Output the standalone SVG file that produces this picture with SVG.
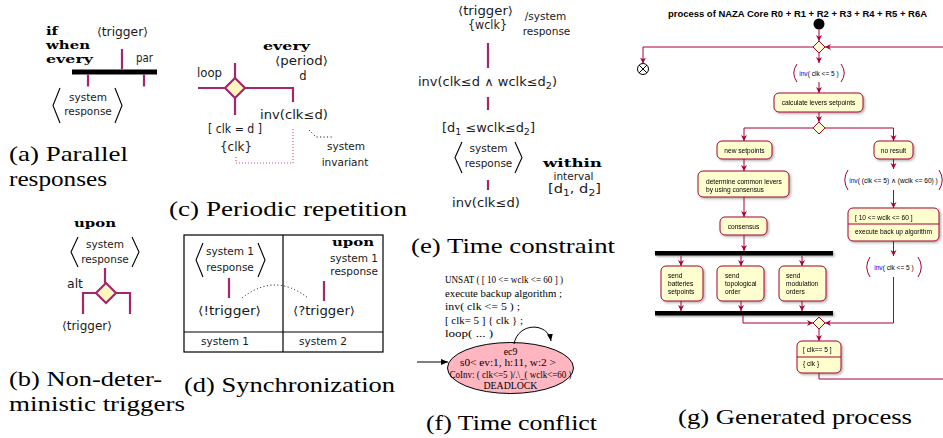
<svg xmlns="http://www.w3.org/2000/svg" width="943" height="438" viewBox="0 0 943 438">
<defs>
<style>
.cap{font-family:"Liberation Serif",serif;font-size:22px;fill:#000}
.sf{font-family:"DejaVu Sans",sans-serif;font-size:11.5px;fill:#1a1a1a}
.st{font-family:"DejaVu Sans",sans-serif;font-size:10.5px;fill:#1a1a1a;text-anchor:middle}
.kw{font-family:"DejaVu Serif",serif;font-weight:bold;font-size:11.5px;fill:#000}
.mg{stroke:#A3266E;stroke-width:2.2;fill:none}
.dia{fill:#FFF6C0;stroke:#A3266E;stroke-width:2.2}
.br{stroke:#000;stroke-width:1.1;fill:none}
.dot{stroke:#000;stroke-width:1;fill:none;stroke-dasharray:1 2.5}
.pdot{stroke:#D6489A;stroke-width:1.2;fill:none;stroke-dasharray:1 2}
.tm{font-family:"Liberation Serif",serif;font-size:10.5px;fill:#000}
.te{font-family:"Liberation Serif",serif;font-size:9.8px;fill:#000;text-anchor:middle}
.pu{font-family:"Liberation Sans",Arial,sans-serif;font-size:6.6px;fill:#000}
.pb{fill:#FEFECE;stroke:#A80036;stroke-width:1}
.pl{stroke:#A80036;stroke-width:1;fill:none}
.pa{marker-end:url(#pa)}
.m{text-anchor:middle}
.blue{fill:#0000FF}
</style>
<marker id="pa" markerUnits="userSpaceOnUse" markerWidth="7" markerHeight="7" refX="6" refY="3" orient="auto"><path d="M0,0 L6,3 L0,6 L1.8,3 z" fill="#A80036"/></marker>
<marker id="ba" markerUnits="userSpaceOnUse" markerWidth="8" markerHeight="8" refX="7" refY="3" orient="auto"><path d="M0,0 L7,3 L0,6 z" fill="#000"/></marker>
<filter id="sh" x="-20%" y="-20%" width="150%" height="170%"><feDropShadow dx="1.5" dy="1.5" stdDeviation="1" flood-color="#000" flood-opacity="0.3"/></filter>
</defs>
<rect width="943" height="438" fill="#fff"/>

<!-- (a) Parallel responses -->
<g id="panel-a">
  <g id="a-keywords">
    <text class="kw" x="46" y="34.5" textLength="12" lengthAdjust="spacingAndGlyphs">if</text>
    <text class="kw" x="46" y="48.5" textLength="44" lengthAdjust="spacingAndGlyphs">when</text>
    <text class="kw" x="46" y="62.5" textLength="47" lengthAdjust="spacingAndGlyphs">every</text>
  </g>
  <g id="a-trigger"><text class="sf m" x="122.5" y="36" textLength="51" lengthAdjust="spacingAndGlyphs">⟨trigger⟩</text></g>
  <g id="a-par"><text class="sf" x="136" y="62" textLength="17" lengthAdjust="spacingAndGlyphs">par</text></g>
  <g id="a-bar"><rect x="72" y="69.5" width="85" height="5" fill="#000"/></g>
  <g id="a-response">
    <path class="br" d="M60 88 L53 105.5 L60 123 M115 88 L122 105.5 L115 123"/>
    <text class="st" x="88" y="101">system</text>
    <text class="st" x="88" y="115">response</text>
  </g>
  <g id="a-connectors">
    <path class="mg" d="M122 49 V69.5 M88 74.5 V86.5 M144 74.5 V86.5"/>
  </g>
  <text class="cap" x="9" y="161" textLength="119" lengthAdjust="spacingAndGlyphs">(a) Parallel</text>
  <text class="cap" x="9" y="186" textLength="98" lengthAdjust="spacingAndGlyphs">responses</text>
</g>

<!-- (b) Non-deterministic triggers -->
<g id="panel-b">
  <g id="b-upon"><text class="kw" x="74" y="227" textLength="42" lengthAdjust="spacingAndGlyphs">upon</text></g>
  <g id="b-response">
    <path class="br" d="M78 237 L71 252 L78 267 M132 237 L139 252 L132 267"/>
    <text class="st" x="105" y="248">system</text>
    <text class="st" x="105" y="263">response</text>
  </g>
  <g id="b-alt">
    <polygon class="dia" points="106,283 116,293 106,303 96,293"/>
    <text class="sf" x="67" y="288" textLength="16" lengthAdjust="spacingAndGlyphs">alt</text>
  </g>
  <g id="b-trigger"><text class="sf m" x="87" y="330" textLength="50" lengthAdjust="spacingAndGlyphs">⟨trigger⟩</text></g>
  <g id="b-connectors">
    <path class="mg" d="M105 268 V283 M83 314 V293 H96 M116 293 H130 V314"/>
  </g>
  <text class="cap" x="9" y="386" textLength="153" lengthAdjust="spacingAndGlyphs">(b) Non-deter-</text>
  <text class="cap" x="9" y="410.5" textLength="176" lengthAdjust="spacingAndGlyphs">ministic triggers</text>
</g>

<!-- (c) Periodic repetition -->
<g id="panel-c">
  <g id="c-every">
    <text class="kw" x="263" y="50" textLength="47" lengthAdjust="spacingAndGlyphs">every</text>
    <text class="sf m" x="301.5" y="65" textLength="53" lengthAdjust="spacingAndGlyphs">⟨period⟩</text>
    <text class="sf m" x="303" y="80">d</text>
  </g>
  <g id="c-loop">
    <polygon class="dia" points="235,78 245,88 235,98 225,88"/>
    <text class="sf" x="197" y="77" textLength="25" lengthAdjust="spacingAndGlyphs">loop</text>
  </g>
  <g id="c-inv"><text class="sf m" x="294" y="119" textLength="68" lengthAdjust="spacingAndGlyphs">inv(clk≤d)</text></g>
  <g id="c-guard">
    <text class="sf m" x="235" y="133" textLength="54" lengthAdjust="spacingAndGlyphs">[ clk = d ]</text>
    <text class="sf m" x="236" y="151" textLength="32" lengthAdjust="spacingAndGlyphs">{clk}</text>
  </g>
  <g id="c-note">
    <text class="st" x="346" y="150">system</text>
    <text class="st" x="345" y="166">invariant</text>
  </g>
  <g id="c-connectors">
    <path class="mg" d="M198 88 H225 M245 88 H293 V102 M235 63 V78 M235 98 V115"/>
    <path class="pdot" d="M236 157 V163 H293 V128"/>
    <path class="dot" d="M309 130 L316 137 H332"/>
  </g>
  <text class="cap" x="169" y="216" textLength="238" lengthAdjust="spacingAndGlyphs">(c) Periodic repetition</text>
</g>

<!-- (d) Synchronization -->
<g id="panel-d">
  <g id="d-table" fill="none" stroke="#000" stroke-width="1.2">
    <rect x="184" y="235" width="199" height="117"/>
    <path d="M283 235 V352 M184 332 H383"/>
  </g>
  <g id="d-sys1">
    <path class="br" d="M203 243 L196 260 L203 277 M258 243 L265 260 L258 277"/>
    <text class="st" x="230" y="255">system 1</text>
    <text class="st" x="230" y="271">response</text>
    <text class="sf m" x="229.5" y="315" textLength="63" lengthAdjust="spacingAndGlyphs">⟨!trigger⟩</text>
  </g>
  <g id="d-sys2">
    <text class="kw" x="332" y="246" textLength="42" lengthAdjust="spacingAndGlyphs">upon</text>
    <text class="st" x="378" y="262" style="text-anchor:end">system 1</text>
    <text class="st" x="378" y="275" style="text-anchor:end">response</text>
    <text class="sf m" x="324" y="315" textLength="62" lengthAdjust="spacingAndGlyphs">⟨?trigger⟩</text>
  </g>
  <g id="d-labels">
    <text class="st" x="225" y="345" font-size="11">system 1</text>
    <text class="st" x="323" y="345" font-size="11">system 2</text>
  </g>
  <g id="d-connectors">
    <path class="mg" d="M229 278 V298 M324 281 V301"/>
    <path class="dot" d="M242 298 Q275 272 308 298"/>
  </g>
  <text class="cap" x="184" y="392" textLength="211" lengthAdjust="spacingAndGlyphs">(d) Synchronization</text>
</g>

<!-- (e) Time constraint -->
<g id="panel-e">
  <g id="e-trigger">
    <text class="sf m" x="485.5" y="15" textLength="55" lengthAdjust="spacingAndGlyphs">⟨trigger⟩</text>
    <text class="sf m" x="487.5" y="29" textLength="39" lengthAdjust="spacingAndGlyphs">{wclk}</text>
    <text class="st" x="545.5" y="20">/system</text>
    <text class="st" x="546.5" y="35">response</text>
  </g>
  <g id="e-inv1"><text class="sf m" x="487.5" y="86" textLength="139" lengthAdjust="spacingAndGlyphs">inv(clk≤d ∧ wclk≤d<tspan font-size="8.5" dy="3">2</tspan><tspan dy="-3">)</tspan></text></g>
  <g id="e-guard"><text class="sf m" x="488.5" y="132" textLength="93" lengthAdjust="spacingAndGlyphs">[d<tspan font-size="8.5" dy="3">1</tspan><tspan dy="-3"> ≤wclk≤d</tspan><tspan font-size="8.5" dy="3">2</tspan><tspan dy="-3">]</tspan></text></g>
  <g id="e-response">
    <path class="br" d="M462 142 L455 157.5 L462 173 M515 142 L522 157.5 L515 173"/>
    <text class="st" x="488.5" y="152">system</text>
    <text class="st" x="488.5" y="167">response</text>
  </g>
  <g id="e-within">
    <text class="kw" x="543" y="167" textLength="59" lengthAdjust="spacingAndGlyphs">within</text>
    <text class="st" x="573.5" y="180">interval</text>
    <text class="sf m" x="574.5" y="193" textLength="53" lengthAdjust="spacingAndGlyphs">[d<tspan font-size="8.5" dy="3">1</tspan><tspan dy="-3">, d</tspan><tspan font-size="8.5" dy="3">2</tspan><tspan dy="-3">]</tspan></text>
  </g>
  <g id="e-inv2"><text class="sf m" x="486" y="207" textLength="68" lengthAdjust="spacingAndGlyphs">inv(clk≤d)</text></g>
  <g id="e-connectors">
    <path class="mg" d="M488 43 V68 M488 97 V110 M488 180 V190"/>
  </g>
  <text class="cap" x="411" y="253" textLength="204" lengthAdjust="spacingAndGlyphs">(e) Time constraint</text>
</g>

<!-- (f) Time conflict -->
<g id="panel-f">
  <g id="f-label">
    <text class="tm" x="445" y="283" textLength="118" lengthAdjust="spacingAndGlyphs">UNSAT ( [ 10 &lt;= wclk &lt;= 60 ] )</text>
    <text class="tm" x="445" y="296.5" textLength="117" lengthAdjust="spacingAndGlyphs">execute backup algorithm ;</text>
    <text class="tm" x="445" y="310" textLength="75" lengthAdjust="spacingAndGlyphs">inv( clk &lt;= 5 ) ;</text>
    <text class="tm" x="445" y="323.5" textLength="78" lengthAdjust="spacingAndGlyphs">[ clk= 5 ] { clk } ;</text>
    <text class="tm" x="445" y="337" textLength="48" lengthAdjust="spacingAndGlyphs">loop( ... )</text>
  </g>
  <g id="f-state">
    <ellipse cx="510.5" cy="368" rx="63" ry="25.5" fill="#FFB6C1" stroke="#000" stroke-width="1"/>
    <text class="te" x="510.5" y="354.5">ec9</text>
    <text class="te" x="508" y="366" textLength="96" lengthAdjust="spacingAndGlyphs">s0&lt; ev:1, h:11, w:2 &gt;</text>
    <text class="te" x="510.5" y="377.5" textLength="122" lengthAdjust="spacingAndGlyphs">CoInv: ( clk&lt;=5 )/.\_( wclk&lt;=60 )</text>
    <text class="te" x="510.5" y="389">DEADLOCK</text>
  </g>
  <g id="f-connectors" stroke="#000" stroke-width="1" fill="none">
    <path d="M514 344 C518 322, 548 322, 551 341" marker-end="url(#ba)"/>
    <path d="M417 362 H448" marker-end="url(#ba)"/>
  </g>
  <text class="cap" x="426" y="430" textLength="171" lengthAdjust="spacingAndGlyphs">(f) Time conflict</text>
</g>

<!-- (g) Generated process -->
<g id="panel-g">
  <text id="g-title" x="797.5" y="16.5" text-anchor="middle" font-family="Liberation Sans, Arial, sans-serif" font-weight="bold" font-size="8.6" textLength="259" lengthAdjust="spacingAndGlyphs">process of NAZA Core R0 + R1 + R2 + R3 + R4 + R5 + R6A</text>
  <g id="g-start"><circle cx="819" cy="24" r="5.5" fill="#000"/></g>
  <g id="g-end"><circle cx="643" cy="69" r="5.5" fill="#fff" stroke="#000" stroke-width="1"/><path d="M639.1 65.1 L646.9 72.9 M646.9 65.1 L639.1 72.9" stroke="#000" stroke-width="1"/></g>
  <g id="g-merge1"><polygon class="pb" points="819,41 825,47 819,53 813,47"/></g>
  <g id="g-inv1">
    <path class="pl" d="M797 64 Q790.5 73 797 82 M841 64 Q847.5 73 841 82"/>
    <text class="pu m" x="819" y="75.5"><tspan class="blue">inv</tspan>( clk &lt;= 5 )</text>
  </g>
  <g id="g-calc" filter="url(#sh)">
    <rect class="pb" x="774" y="93" width="89" height="19" rx="5"/>
    <text class="pu m" x="818.5" y="104.5">calculate levers setpoints</text>
  </g>
  <g id="g-branch"><polygon class="pb" points="819,122 825,128 819,134 813,128"/></g>
  <g id="g-new" filter="url(#sh)">
    <rect class="pb" x="717" y="141" width="55" height="18" rx="5"/>
    <text class="pu m" x="744.5" y="152.5">new setpoints</text>
  </g>
  <g id="g-determine" filter="url(#sh)">
    <rect class="pb" x="698" y="171" width="91" height="26" rx="5"/>
    <text class="pu" x="706" y="184">determine common levers</text>
    <text class="pu" x="706" y="192">by using consensus</text>
  </g>
  <g id="g-consensus" filter="url(#sh)">
    <rect class="pb" x="720" y="217" width="47" height="18" rx="5"/>
    <text class="pu m" x="743.5" y="228.5">consensus</text>
  </g>
  <g id="g-fork" filter="url(#sh)"><rect x="655" y="251" width="178" height="4.5" fill="#000"/></g>
  <g id="g-send1" filter="url(#sh)">
    <rect class="pb" x="661" y="266" width="42" height="35" rx="5"/>
    <text class="pu" x="668" y="278">send</text>
    <text class="pu" x="668" y="286">batteries</text>
    <text class="pu" x="668" y="294">setpoints</text>
  </g>
  <g id="g-send2" filter="url(#sh)">
    <rect class="pb" x="717" y="266" width="47" height="35" rx="5"/>
    <text class="pu" x="725" y="278">send</text>
    <text class="pu" x="725" y="286">topological</text>
    <text class="pu" x="725" y="294">order</text>
  </g>
  <g id="g-send3" filter="url(#sh)">
    <rect class="pb" x="779" y="266" width="47" height="35" rx="5"/>
    <text class="pu" x="786" y="278">send</text>
    <text class="pu" x="786" y="286">modulation</text>
    <text class="pu" x="786" y="294">orders</text>
  </g>
  <g id="g-join" filter="url(#sh)"><rect x="655" y="311" width="178" height="4.5" fill="#000"/></g>
  <g id="g-noresult" filter="url(#sh)">
    <rect class="pb" x="874" y="141" width="39" height="18" rx="5"/>
    <text class="pu m" x="893.5" y="152.5">no result</text>
  </g>
  <g id="g-inv2">
    <path class="pl" d="M848 170 Q841.5 180 848 190 M939 170 Q945.5 180 939 190"/>
    <text class="pu m" x="893.5" y="182.5"><tspan class="blue">inv</tspan>( (clk &lt;= 5) ∧ (wclk &lt;= 60) )</text>
  </g>
  <g id="g-backup" filter="url(#sh)">
    <rect class="pb" x="848" y="208" width="91" height="33" rx="5"/>
    <path class="pl" d="M848 224 H939"/>
    <text class="pu" x="855" y="219.5">[ 10 &lt;= wclk &lt;= 60 ]</text>
    <text class="pu" x="855" y="233.5">execute back up algorithm</text>
  </g>
  <g id="g-inv3">
    <path class="pl" d="M870 257 Q863.5 267 870 277 M918 257 Q924.5 267 918 277"/>
    <text class="pu m" x="894" y="269.5"><tspan class="blue">inv</tspan>( clk &lt;= 5 )</text>
  </g>
  <g id="g-merge2"><polygon class="pb" points="819,317 825,323 819,329 813,323"/></g>
  <g id="g-clk" filter="url(#sh)">
    <rect class="pb" x="797" y="341" width="44" height="32" rx="5"/>
    <path class="pl" d="M797 357 H841"/>
    <text class="pu" x="803" y="352">[ clk== 5 ]</text>
    <text class="pu" x="803" y="366">{ clk }</text>
  </g>
  <g id="g-connectors" class="pl">
    <path class="pa" d="M819 29.5 V41"/>
    <path class="pa" d="M813 47 H643 V63.5"/>
    <path class="pa" d="M943 47 H825"/>
    <path class="pa" d="M819 53 V63"/>
    <path class="pa" d="M819 82 V93"/>
    <path class="pa" d="M819 112 V122"/>
    <path class="pa" d="M813 128 H744 V141"/>
    <path class="pa" d="M825 128 H893.5 V141"/>
    <path class="pa" d="M744 159 V171"/>
    <path class="pa" d="M744 197 V217"/>
    <path class="pa" d="M744 235 V251"/>
    <path class="pa" d="M681 255.5 V266"/>
    <path class="pa" d="M741 255.5 V266"/>
    <path class="pa" d="M802 255.5 V266"/>
    <path class="pa" d="M681 301 V311"/>
    <path class="pa" d="M741 301 V311"/>
    <path class="pa" d="M802 301 V311"/>
    <path class="pa" d="M743 315.5 V323 H813"/>
    <path class="pa" d="M893.5 159 V169"/>
    <path class="pa" d="M893.5 190 V208"/>
    <path class="pa" d="M893.5 241 V256"/>
    <path class="pa" d="M893.5 277 V323 H825"/>
    <path class="pa" d="M819 329 V341"/>
    <path d="M819 373 V379 H943"/>
  </g>
  <text class="cap" x="678" y="424" textLength="234" lengthAdjust="spacingAndGlyphs">(g) Generated process</text>
</g>
</svg>
